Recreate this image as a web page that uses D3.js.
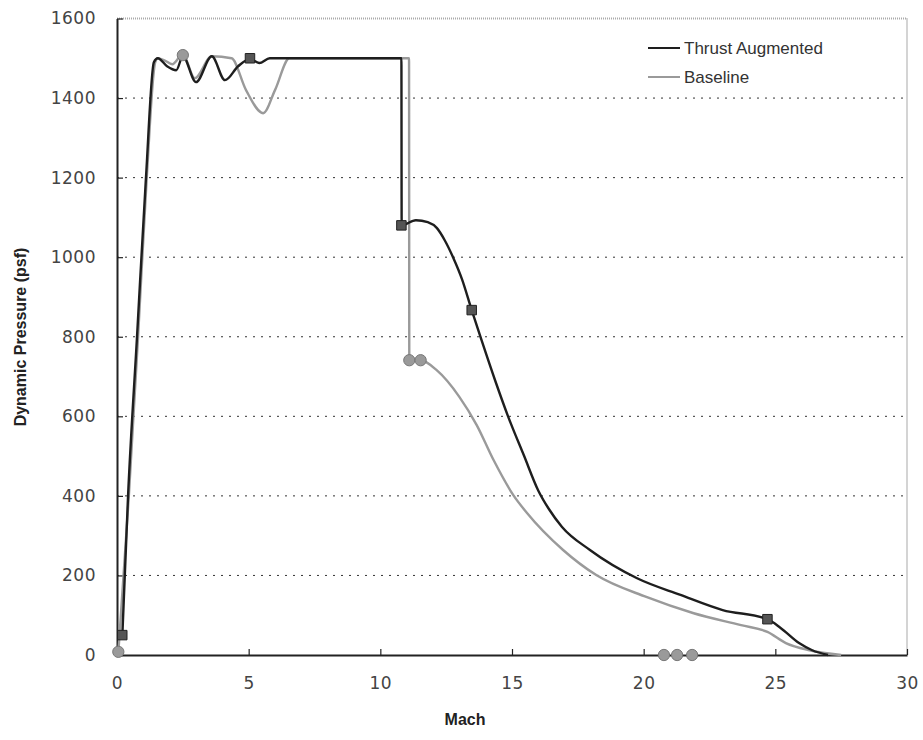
<!DOCTYPE html>
<html><head><meta charset="utf-8">
<script src="https://cdn.jsdelivr.net/npm/d3@7"></script>
<style>body{margin:0;background:#fff}</style>
</head><body>
<svg id="c" width="923" height="740"></svg>
<script>
const seriesNames = ["Thrust Augmented", "Baseline"];
const xTicks = [0,5,10,15,20,25,30];
const yTicks = [0,200,400,600,800,1000,1200,1400,1600];
const thrustMach = [0.2,0.42,0.76,1.1,1.4,1.55,1.9,2.25,2.5,3.0,3.6,4.1,4.6,5.05,5.4,5.8,10.8,10.81,11.35,11.8,12.15,12.45,12.76,13.1,13.47,13.85,14.36,14.85,15.45,16.0,16.4,16.9,17.96,19.75,21.4,23.0,24.7,25.2,25.9,26.4,27.0];
const thrustQ    = [45,400,800,1200,1490,1500,1480,1470,1505,1440,1505,1445,1480,1498,1488,1500,1500,1080,1093,1088,1073,1042,1000,945,867,790,690,600,502,413,367,322,264,193,151,113,90,68,30,12,0];
const baseMach = [0.05,0.45,0.8,1.13,1.45,1.55,1.8,2.1,2.5,2.95,3.6,4.35,4.9,5.55,6.0,6.55,11.09,11.1,11.53,12.14,13.0,13.66,14.3,15.05,15.57,16.94,18.2,20.1,21.9,23.7,24.7,25.4,26.3,27.5];
const baseQ    = [5,400,800,1200,1490,1500,1495,1485,1510,1450,1505,1500,1420,1362,1420,1500,1500,741,741,716,649,578,490,402,357,264,201,146,105,75,58,30,12,0];
const thrustMarkMach = [0.2,5.05,10.8,13.47,24.7];
const thrustMarkQ    = [50,1500,1080,867,90];
const baseMarkMach = [0.05,2.5,11.1,11.53,20.77,21.27,21.84];
const baseMarkQ    = [8,1508,741,741,0,0,0];

const svg = d3.select("#c");
const L=117, R=907, T=18.5, B=655;
const x = d3.scaleLinear().domain([0,30]).range([L,R]);
const y = d3.scaleLinear().domain([0,1600]).range([B,T]);

svg.append("path").attr("d",`M${L},${T}H${R}V${B}`).attr("fill","none")
  .attr("stroke","#aaa").attr("stroke-width",2).attr("stroke-dasharray","1,1");

svg.append("g").selectAll("line").data(yTicks.filter(d=>d>0&&d<1600)).join("line")
  .attr("x1",L).attr("x2",R).attr("y1",d=>y(d)).attr("y2",d=>y(d))
  .attr("stroke","#333").attr("stroke-width",1).attr("stroke-dasharray","2,6");

const xAxis = d3.axisBottom(x).tickValues(xTicks).tickSize(-6).tickPadding(22).tickSizeOuter(0).tickFormat(d3.format("d"));
const yAxis = d3.axisLeft(y).tickValues(yTicks).tickSize(-6).tickPadding(21).tickSizeOuter(0).tickFormat(d3.format("d"));
const gx = svg.append("g").attr("transform",`translate(0,${B})`).call(xAxis);
const gy = svg.append("g").attr("transform",`translate(${L},0)`).call(yAxis);
[gx,gy].forEach(g=>{
  g.select(".domain").attr("stroke","#222").attr("stroke-width",2);
  g.selectAll(".tick line").attr("stroke","#222").attr("stroke-width",1.2);
  g.selectAll(".tick text").attr("font-family","DejaVu Sans, Verdana, sans-serif")
    .attr("font-size",17).attr("fill","#444").attr("letter-spacing","0.5px");
});

const line = d3.line().x(d=>x(d[0])).y(d=>y(d[1])).curve(d3.curveMonotoneX);
const baseData = baseMach.map((m,i)=>[m,baseQ[i]]);
const thrustData = thrustMach.map((m,i)=>[m,thrustQ[i]]);

svg.append("path").datum(baseData).attr("d",line).attr("fill","none")
  .attr("stroke","#9a9a9a").attr("stroke-width",2.4);
svg.append("path").datum(thrustData).attr("d",line).attr("fill","none")
  .attr("stroke","#1e1e1e").attr("stroke-width",2.4);

svg.append("g").selectAll("path").data(baseMarkMach.map((m,i)=>[m,baseMarkQ[i]])).join("path")
  .attr("transform",d=>`translate(${x(d[0])},${y(d[1])})`)
  .attr("d",d3.symbol(d3.symbolCircle,100))
  .attr("fill","#9a9a9a").attr("stroke","#777").attr("stroke-width",1);
svg.append("g").selectAll("path").data(thrustMarkMach.map((m,i)=>[m,thrustMarkQ[i]])).join("path")
  .attr("transform",d=>`translate(${x(d[0])},${y(d[1])})`)
  .attr("d",d3.symbol(d3.symbolSquare,90))
  .attr("fill","#555").attr("stroke","#222").attr("stroke-width",1);

const leg = svg.append("g");
seriesNames.forEach((n,i)=>{
  const yy = 48 + i*29;
  leg.append("line").attr("x1",648).attr("x2",680).attr("y1",yy).attr("y2",yy)
    .attr("stroke", i===0?"#1e1e1e":"#9a9a9a").attr("stroke-width",2);
  leg.append("text").attr("x",684).attr("y",yy+6).text(n)
    .attr("font-family","Liberation Sans, Arial, sans-serif").attr("font-size",17).attr("fill","#333");
});

svg.append("text").attr("x",465).attr("y",725).attr("text-anchor","middle").text("Mach")
  .attr("font-family","Liberation Sans, Arial, sans-serif").attr("font-weight","bold")
  .attr("font-size",16).attr("fill","#222");
svg.append("text").attr("transform","translate(26,337) rotate(-90)").attr("text-anchor","middle")
  .text("Dynamic Pressure (psf)")
  .attr("font-family","Liberation Sans, Arial, sans-serif").attr("font-weight","bold")
  .attr("font-size",16).attr("fill","#222");
</script>
</body></html>
